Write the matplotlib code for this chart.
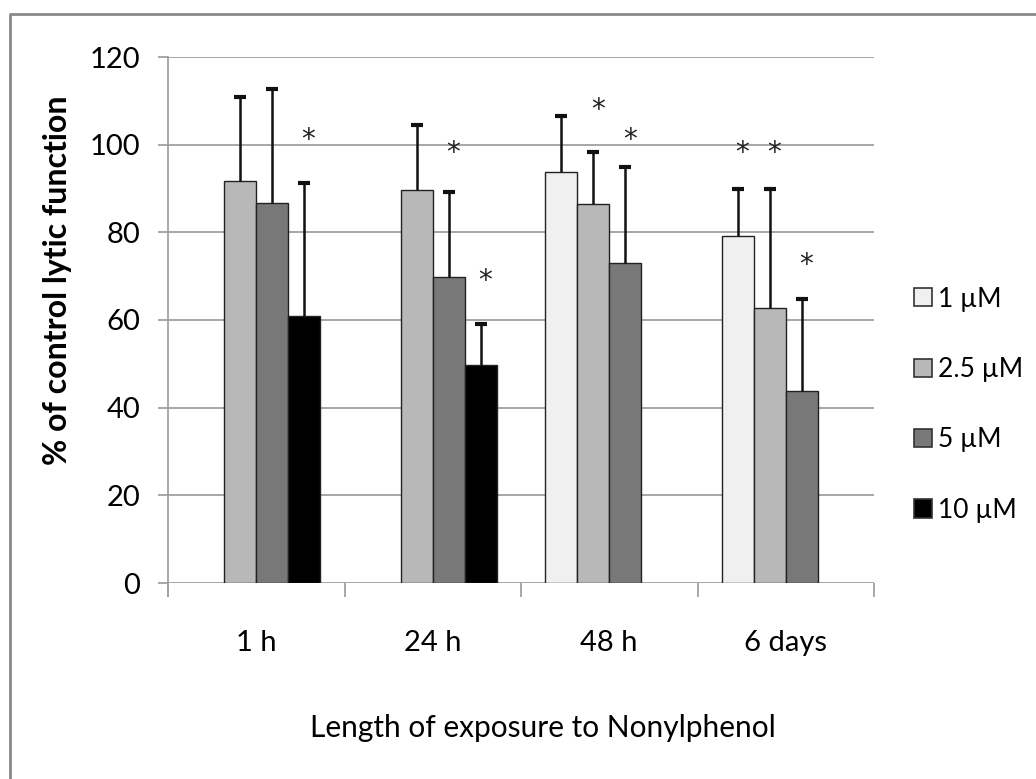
import numpy as np
import matplotlib
matplotlib.use("Agg")
import matplotlib.pyplot as plt
from matplotlib.patches import Patch
from matplotlib.lines import Line2D

plt.rcParams['font.family'] = ['Lato', 'DejaVu Sans']

times = ["1 h", "24 h", "48 h", "6 days"]
concs = ["1 \u00b5M", "2.5 \u00b5M", "5 \u00b5M", "10 \u00b5M"]
nan = np.nan

# mean % of control per concentration
c1 = [nan, nan, 93.7, 79.1]
c25 = [91.8, 89.6, 86.4, 62.7]
c5 = [86.8, 69.9, 72.9, 43.7]
c10 = [60.9, 49.7, nan, nan]

# upper error bars
e1 = [nan, nan, 12.9, 10.7]
e25 = [19.0, 14.8, 11.9, 27.1]
e5 = [26.0, 19.2, 21.9, 21.0]
e10 = [30.4, 9.5, nan, nan]

# significance stars (height of the * mark)
s1 = [nan, nan, nan, 98]
s25 = [nan, nan, 108, 98]
s5 = [nan, 98, 101, 72.5]
s10 = [101, 69, nan, nan]

means = [c1, c25, c5, c10]
errs = [e1, e25, e5, e10]
stars = [s1, s25, s5, s10]
colors = ["#f0f0f0", "#b8b8b8", "#787878", "#000000"]

fig = plt.figure(figsize=(10.36, 7.79), dpi=100)
ax = fig.add_axes([168/1036, 1-583/779, 706/1036, 526/779])

w = 0.181
centers = np.arange(len(times)) + 0.5
for j in range(4):
    x = centers + (j - 2) * w + w/2
    ax.bar(x, means[j], width=w, color=colors[j], edgecolor="#222222",
           linewidth=1.0, zorder=3)
    eb = ax.errorbar(x, means[j], yerr=[np.zeros(4), errs[j]], fmt="none",
                     ecolor="#111111", elinewidth=1.8, capsize=4.5, capthick=3,
                     zorder=4)
    # only keep the upper caps
    for cap in eb[1]:
        if np.allclose(np.asarray(cap.get_ydata(), float), np.asarray(means[j], float),
                       equal_nan=True):
            cap.set_visible(False)
    for xi, sy in zip(x, stars[j]):
        if not np.isnan(sy):
            ax.text(xi + 0.025, sy, "*", ha="center", va="center",
                    fontsize=20, family="DejaVu Sans", color="#222222")

ax.set_xlim(0, 4)
ax.set_ylim(0, 120)
ax.set_yticks(range(0, 121, 20))
ax.yaxis.grid(True, color="#a0a0a0", linewidth=1.3, zorder=0)
ax.set_axisbelow(True)

ax.set_xticks(range(5))
ax.set_xticklabels([])
ax.set_xticks(centers, minor=True)
ax.set_xticklabels(times, minor=True, fontsize=21)
ax.tick_params(axis="x", which="major", length=10, color="#a0a0a0", width=1.3)
ax.tick_params(axis="x", which="minor", length=0, pad=34)
ax.tick_params(axis="y", length=7, color="#a0a0a0", width=1.3, pad=13,
               labelsize=21)

for s in ["top", "right", "bottom"]:
    ax.spines[s].set_visible(False)
ax.spines["left"].set_color("#a0a0a0")
ax.spines["left"].set_linewidth(1.3)
ax.spines["left"].set_bounds(-3, 120)
ax.spines["left"].set_clip_on(False)

fig.text(58/1036, 1-280/779, "% of control lytic function", rotation=90,
         ha="center", va="center", fontsize=23, fontweight="bold")
fig.text(543/1036, 1-728/779, "Length of exposure to Nonylphenol",
         ha="center", va="center", fontsize=21.5)

handles = [Patch(facecolor=c, edgecolor="#333333", linewidth=1.2) for c in colors]
fig.legend(handles, concs, loc="upper left",
           bbox_to_anchor=(903/1036, 1-276/779), frameon=False, fontsize=19,
           handlelength=0.68, handleheight=0.68, handletextpad=0.25,
           labelspacing=1.72, borderaxespad=0)

# chart frame (left and top edges)
fig.add_artist(Line2D([10/1036, 10/1036, 1], [0, 1-14/779, 1-14/779],
                      transform=fig.transFigure, color="#8a8a8a", linewidth=2))

fig.savefig("out.png", dpi=100, facecolor="white")
